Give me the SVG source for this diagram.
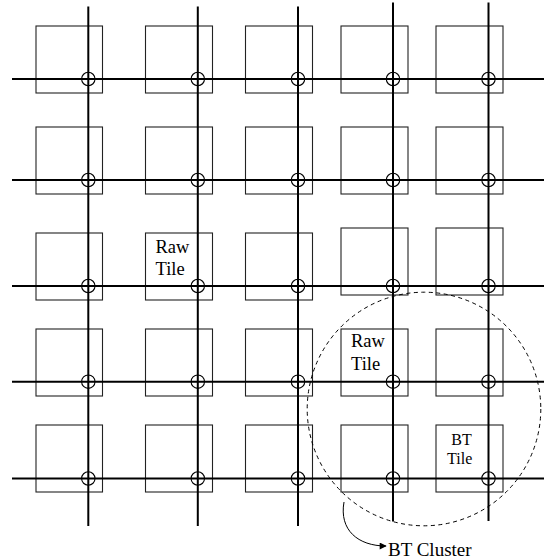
<svg xmlns="http://www.w3.org/2000/svg" width="544" height="558" viewBox="0 0 544 558">
<style>
.tile{fill:none;stroke:#222;stroke-width:1.1}
.wire{stroke:#000;stroke-width:2;fill:none}
.rt{fill:none;stroke:#000;stroke-width:1.1}
.lbl{font-family:"Liberation Serif","Times New Roman",serif;fill:#000}
</style>
<defs>
<marker id="ah" viewBox="0 0 10 10" refX="9" refY="5" markerWidth="9" markerHeight="7" markerUnits="userSpaceOnUse" orient="auto">
<path d="M0,0 L10,5 L0,10 z" fill="#000"/>
</marker>
</defs>
<rect width="544" height="558" fill="#fff"/>
<g id="tiles">
<g id="t11"><rect class="tile" x="36" y="26" width="66.5" height="67"/></g>
<g id="t12"><rect class="tile" x="145.5" y="26" width="67" height="67"/></g>
<g id="t13"><rect class="tile" x="245.5" y="26" width="67" height="67"/></g>
<g id="t14"><rect class="tile" x="341" y="26" width="67" height="67"/></g>
<g id="t15"><rect class="tile" x="436" y="26" width="67" height="67"/></g>
<g id="t21"><rect class="tile" x="36" y="127" width="66.5" height="67"/></g>
<g id="t22"><rect class="tile" x="145.5" y="127" width="67" height="67"/></g>
<g id="t23"><rect class="tile" x="245.5" y="127" width="67" height="67"/></g>
<g id="t24"><rect class="tile" x="341" y="127" width="67" height="67"/></g>
<g id="t25"><rect class="tile" x="436" y="127" width="67" height="67"/></g>
<g id="t31"><rect class="tile" x="36" y="233" width="66.5" height="67"/></g>
<g id="t32"><rect class="tile" x="145.5" y="233" width="67" height="67"/>
<text class="lbl" x="155.5" y="252.5" font-size="18.5">Raw</text>
<text class="lbl" x="155.5" y="275" font-size="18.5">Tile</text></g>
<g id="t33"><rect class="tile" x="245.5" y="233" width="67" height="67"/></g>
<g id="t34"><rect class="tile" x="341" y="228" width="67" height="67"/></g>
<g id="t35"><rect class="tile" x="436" y="228" width="67" height="67"/></g>
<g id="t41"><rect class="tile" x="36" y="329" width="66.5" height="67"/></g>
<g id="t42"><rect class="tile" x="145.5" y="329" width="67" height="67"/></g>
<g id="t43"><rect class="tile" x="245.5" y="329" width="67" height="67"/></g>
<g id="t44"><rect class="tile" x="341" y="329" width="67" height="67"/>
<text class="lbl" x="351" y="347" font-size="18.5">Raw</text>
<text class="lbl" x="351" y="369.5" font-size="18.5">Tile</text></g>
<g id="t45"><rect class="tile" x="436" y="329" width="67" height="67"/></g>
<g id="t51"><rect class="tile" x="36" y="425" width="66.5" height="67"/></g>
<g id="t52"><rect class="tile" x="145.5" y="425" width="67" height="67"/></g>
<g id="t53"><rect class="tile" x="245.5" y="425" width="67" height="67"/></g>
<g id="t54"><rect class="tile" x="341" y="425" width="67" height="67"/></g>
<g id="t55"><rect class="tile" x="436" y="425" width="67" height="67"/>
<text class="lbl" x="461.5" y="445" font-size="16" text-anchor="middle">BT</text>
<text class="lbl" x="459.7" y="464" font-size="16" text-anchor="middle">Tile</text></g>
</g>
<g id="connectors">
<line class="wire" x1="12" y1="79" x2="544" y2="79"/>
<line class="wire" x1="12" y1="180" x2="544" y2="180"/>
<line class="wire" x1="12" y1="286" x2="544" y2="286"/>
<line class="wire" x1="12" y1="381.7" x2="544" y2="381.7"/>
<line class="wire" x1="12" y1="478.5" x2="544" y2="478.5"/>
<line class="wire" x1="88.3" y1="6.5" x2="88.3" y2="526"/>
<line class="wire" x1="197.8" y1="6.5" x2="197.8" y2="526"/>
<line class="wire" x1="298" y1="6.5" x2="298" y2="526"/>
<line class="wire" x1="393" y1="2.5" x2="393" y2="521.5"/>
<line class="wire" x1="488.5" y1="2.5" x2="488.5" y2="521"/>
</g>
<g id="routers">
<circle class="rt" cx="88.3" cy="79" r="6.7"/><circle class="rt" cx="197.8" cy="79" r="6.7"/><circle class="rt" cx="298" cy="79" r="6.7"/><circle class="rt" cx="393" cy="79" r="6.7"/><circle class="rt" cx="488.5" cy="79" r="6.7"/>
<circle class="rt" cx="88.3" cy="180" r="6.7"/><circle class="rt" cx="197.8" cy="180" r="6.7"/><circle class="rt" cx="298" cy="180" r="6.7"/><circle class="rt" cx="393" cy="180" r="6.7"/><circle class="rt" cx="488.5" cy="180" r="6.7"/>
<circle class="rt" cx="88.3" cy="286" r="6.7"/><circle class="rt" cx="197.8" cy="286" r="6.7"/><circle class="rt" cx="298" cy="286" r="6.7"/><circle class="rt" cx="393" cy="286" r="6.7"/><circle class="rt" cx="488.5" cy="286" r="6.7"/>
<circle class="rt" cx="88.3" cy="381.7" r="6.7"/><circle class="rt" cx="197.8" cy="381.7" r="6.7"/><circle class="rt" cx="298" cy="381.7" r="6.7"/><circle class="rt" cx="393" cy="381.7" r="6.7"/><circle class="rt" cx="488.5" cy="381.7" r="6.7"/>
<circle class="rt" cx="88.3" cy="478.5" r="6.7"/><circle class="rt" cx="197.8" cy="478.5" r="6.7"/><circle class="rt" cx="298" cy="478.5" r="6.7"/><circle class="rt" cx="393" cy="478.5" r="6.7"/><circle class="rt" cx="488.5" cy="478.5" r="6.7"/>
</g>
<g id="bt-cluster">
<circle cx="424" cy="409" r="116.8" fill="none" stroke="#000" stroke-width="1" stroke-dasharray="4,3.5"/>
<path d="M344,502 C339,530 358,546 386,546" fill="none" stroke="#000" stroke-width="1" marker-end="url(#ah)"/>
<text class="lbl" x="388" y="555.5" font-size="19">BT Cluster</text>
</g>
</svg>
